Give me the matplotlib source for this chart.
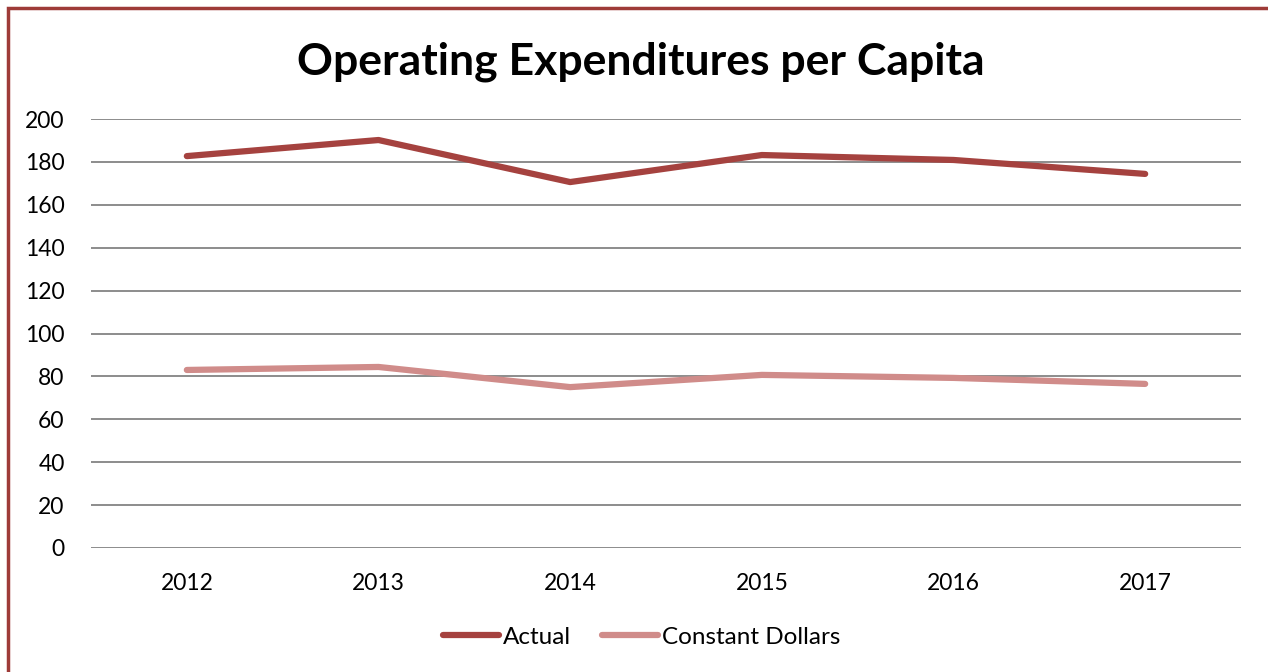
import matplotlib.pyplot as plt
from matplotlib.patches import Rectangle

plt.rcParams['font.family'] = ['Lato', 'DejaVu Sans']

years = ['2012', '2013', '2014', '2015', '2016', '2017']
actual = [182.7, 190.2, 170.6, 183.2, 180.9, 174.4]
constant_dollars = [83.0, 84.4, 75.0, 80.7, 79.3, 76.5]

fig = plt.figure(figsize=(12.68, 6.72), dpi=100)
ax = fig.add_axes([91 / 1268, 1 - 548 / 672, 1150 / 1268, 429 / 672])

x = range(len(years))
ax.plot(x, actual, color='#A5423F', lw=4.5, solid_capstyle='round', label='Actual')
ax.plot(x, constant_dollars, color='#D08C8A', lw=4.5, solid_capstyle='round',
        label='Constant Dollars')

ax.set_xlim(-0.5, len(years) - 0.5)
ax.set_ylim(0, 200)
ax.set_yticks(range(0, 201, 20))
ax.set_xticks(list(x))
ax.set_xticklabels(years)
ax.grid(axis='y', color='#8C8C8C', lw=1.4)
ax.set_axisbelow(True)
for s in ax.spines.values():
    s.set_visible(False)
ax.tick_params(length=0, labelsize=16.5, colors='black')
ax.tick_params(axis='y', pad=19)
ax.tick_params(axis='x', pad=18)

fig.text(0.505, 1 - 62 / 672, 'Operating Expenditures per Capita', ha='center',
         va='center', fontsize=32, fontweight='bold')

fig.legend(loc='center', bbox_to_anchor=(0.506, 1 - 637 / 672), ncol=2,
           frameon=False, fontsize=17.5, handlelength=2.3, handletextpad=0.15,
           columnspacing=1.3)

# chart border
fig.patches.append(Rectangle((8 / 1268, -0.1), 1.2, 1 - 8 / 672 + 0.1,
                             transform=fig.transFigure, fill=False,
                             edgecolor='#9E3B38', lw=2.5))

fig.savefig('out.png', dpi=100)
